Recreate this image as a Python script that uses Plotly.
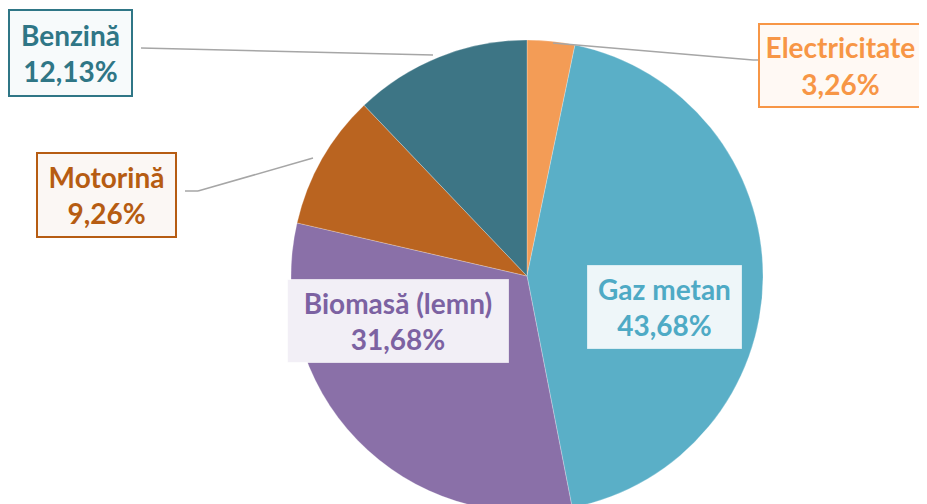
import plotly.graph_objects as go

categories = ["Electricitate", "Gaz metan", "Biomasă (lemn)", "Motorină", "Benzină"]
values = [3.26, 43.68, 31.68, 9.26, 12.13]
slice_colors = ["#F39C56", "#5AAFC7", "#8A70A8", "#BA6420", "#3D7585"]
text_colors = ["#F79646", "#4EAAC5", "#7C62A2", "#B65C12", "#2F7686"]
box_bg = ["#FFF9F4", "#EEF6F9", "#F2EFF6", "#FBF7F4", "#F7FAFB"]

W, H = 927, 504
OFF = 8  # plotly draws fixed-size annotation boxes offset; compensate

def px(x):
    return x / W

def py(y):
    return 1 - y / H

# pie geometry (pixels)
cx, cy, r = 519, 268, 236

fig = go.Figure()
fig.add_trace(go.Pie(
    labels=categories,
    values=values,
    sort=False,
    direction="clockwise",
    rotation=0,
    marker=dict(colors=slice_colors, line=dict(color="rgba(255,255,255,0.25)", width=1)),
    textinfo="none",
    hoverinfo="label+percent",
    showlegend=False,
    domain=dict(x=[px(cx - r), px(cx + r)], y=[py(cy + r), py(cy - r)]),
))

def fmt(v):
    return f"{v:.2f}".replace(".", ",") + "%"

# label boxes: (center x, center y, width, height) in pixels
boxes = {
    "Electricitate": (840.5, 65.5, 165, 85),
    "Gaz metan": (664.5, 307, 155, 84),
    "Biomasă (lemn)": (398, 321, 222, 84),
    "Motorină": (106.5, 195, 141, 86),
    "Benzină": (70.5, 53, 125, 88),
}
border_on = {"Electricitate": True, "Gaz metan": False, "Biomasă (lemn)": False,
             "Motorină": True, "Benzină": True}

annotations = []
for cat, val, tc, bg in zip(categories, values, text_colors, box_bg):
    bx, by, bw, bh = boxes[cat]
    bord = 2 if border_on[cat] else 1
    annotations.append(dict(
        x=px(bx - OFF), y=py(by - OFF), xref="paper", yref="paper",
        xanchor="center", yanchor="middle",
        text=f"<b>{cat}<br>{fmt(val)}</b>",
        showarrow=False,
        font=dict(family="Lato, Open Sans, sans-serif", size=28, color=tc),
        align="center",
        bgcolor=bg,
        bordercolor=tc if border_on[cat] else "rgba(255,255,255,0.6)",
        borderwidth=bord,
        borderpad=0,
        width=bw - 2 * bord,
        height=bh - 2 * bord,
        valign="middle",
    ))

line_style = dict(color="#A6A6A6", width=1.5)
shapes = [
    # Benzină leader
    dict(type="line", xref="paper", yref="paper", x0=px(133), y0=py(40), x1=px(425), y1=py(47), line=line_style),
    # Electricitate leader
    dict(type="line", xref="paper", yref="paper", x0=px(545), y0=py(35), x1=px(745), y1=py(52), line=line_style),
    dict(type="line", xref="paper", yref="paper", x0=px(745), y0=py(52), x1=px(758), y1=py(52), line=line_style),
    # Motorină leader
    dict(type="line", xref="paper", yref="paper", x0=px(177), y0=py(183), x1=px(190), y1=py(183), line=line_style),
    dict(type="line", xref="paper", yref="paper", x0=px(190), y0=py(183), x1=px(305), y1=py(150), line=line_style),
]

fig.update_layout(
    width=W, height=H,
    margin=dict(l=0, r=0, t=0, b=0),
    paper_bgcolor="white",
    plot_bgcolor="white",
    annotations=annotations,
    shapes=shapes,
)

fig.write_html("out.html")
